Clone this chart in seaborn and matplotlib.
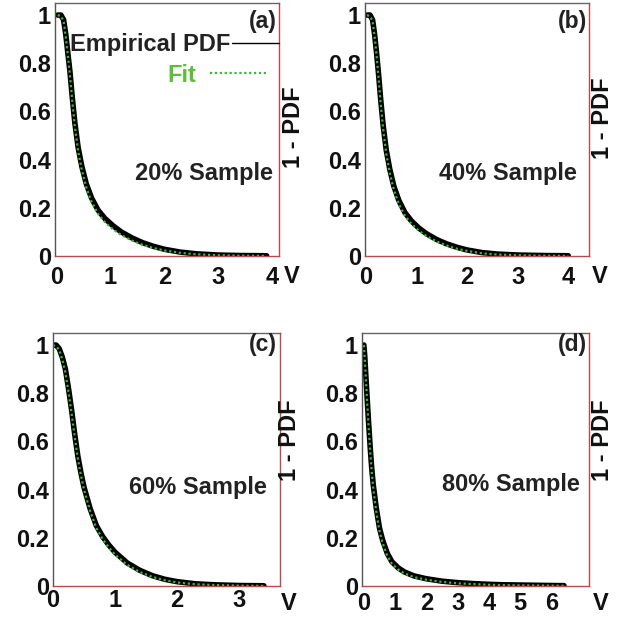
import matplotlib
matplotlib.use("Agg")
import matplotlib.pyplot as plt
from matplotlib.ticker import MultipleLocator, FixedLocator, FixedFormatter
import seaborn as sns

# ---------------- data ----------------
panel_letters = ["(a)", "(b)", "(c)", "(d)"]
sample_labels = ["20% Sample", "40% Sample", "60% Sample", "80% Sample"]

x_a = [0.02, 0.08, 0.13, 0.17, 0.21, 0.25, 0.29, 0.34, 0.40, 0.47, 0.55, 0.65, 0.77,
       0.90, 1.05, 1.20, 1.40, 1.60, 1.80, 2.00, 2.30, 2.60, 3.00, 3.40, 3.90]
emp_a = [1.00, 1.00, 0.98, 0.92, 0.84, 0.76, 0.66, 0.55, 0.45, 0.37, 0.30, 0.24, 0.19,
         0.155, 0.125, 0.10, 0.075, 0.055, 0.040, 0.028, 0.016, 0.009, 0.004, 0.002, 0.001]
fit_a = [1.00, 0.995, 0.975, 0.91, 0.83, 0.745, 0.645, 0.535, 0.435, 0.355, 0.285, 0.225, 0.175,
         0.14, 0.11, 0.087, 0.064, 0.046, 0.033, 0.023, 0.013, 0.007, 0.003, 0.0015, 0.0005]

x_b = [0.02, 0.08, 0.13, 0.17, 0.21, 0.25, 0.29, 0.34, 0.40, 0.47, 0.55, 0.65, 0.77,
       0.90, 1.05, 1.20, 1.40, 1.60, 1.80, 2.00, 2.30, 2.60, 3.00, 3.50, 4.00]
emp_b = [1.00, 1.00, 0.98, 0.92, 0.84, 0.75, 0.65, 0.54, 0.44, 0.36, 0.29, 0.23, 0.18,
         0.145, 0.115, 0.092, 0.068, 0.050, 0.036, 0.025, 0.014, 0.008, 0.004, 0.002, 0.001]
fit_b = [1.00, 0.995, 0.975, 0.91, 0.83, 0.735, 0.635, 0.525, 0.425, 0.345, 0.275, 0.215, 0.167,
         0.133, 0.104, 0.082, 0.060, 0.043, 0.030, 0.021, 0.011, 0.006, 0.003, 0.0012, 0.0005]

x_c = [0.00, 0.05, 0.10, 0.15, 0.20, 0.25, 0.30, 0.35, 0.40, 0.45, 0.50, 0.60, 0.70,
       0.80, 0.90, 1.00, 1.20, 1.40, 1.60, 1.80, 2.00, 2.30, 2.60, 3.00, 3.40]
emp_c = [1.00, 1.00, 0.985, 0.95, 0.90, 0.82, 0.73, 0.63, 0.54, 0.47, 0.41, 0.32, 0.25,
         0.205, 0.17, 0.14, 0.095, 0.065, 0.043, 0.028, 0.018, 0.009, 0.005, 0.002, 0.001]
fit_c = [1.00, 0.995, 0.98, 0.94, 0.885, 0.805, 0.715, 0.62, 0.53, 0.46, 0.40, 0.31, 0.24,
         0.195, 0.16, 0.13, 0.087, 0.058, 0.038, 0.024, 0.015, 0.007, 0.004, 0.0015, 0.0005]

x_d = [0.00, 0.03, 0.06, 0.10, 0.15, 0.20, 0.25, 0.30, 0.40, 0.50, 0.60, 0.75, 0.90,
       1.10, 1.30, 1.60, 2.00, 2.50, 3.00, 3.50, 4.00, 4.50, 5.00, 5.50, 6.00, 6.40]
emp_d = [1.00, 0.95, 0.88, 0.79, 0.68, 0.58, 0.49, 0.42, 0.32, 0.24, 0.19, 0.135, 0.10,
         0.075, 0.058, 0.042, 0.030, 0.020, 0.014, 0.010, 0.007, 0.005, 0.004, 0.003, 0.002, 0.0015]
fit_d = [1.00, 0.94, 0.87, 0.775, 0.665, 0.565, 0.475, 0.405, 0.305, 0.228, 0.178, 0.125, 0.092,
         0.068, 0.052, 0.037, 0.026, 0.017, 0.011, 0.008, 0.005, 0.0035, 0.0025, 0.002, 0.0015, 0.001]

x_tick_sets = [[0, 1, 2, 3, 4], [0, 1, 2, 3, 4], [0, 1, 2, 3], [0, 1, 2, 3, 4, 5, 6]]
y_ticks = [0, 0.2, 0.4, 0.6, 0.8, 1.0]
y_tick_labels = ["0", "0.2", "0.4", "0.6", "0.8", "1"]

# ---------------- style ----------------
sns.set_theme(style="white")
plt.rcParams["font.family"] = ["Liberation Sans", "DejaVu Sans"]
plt.rcParams["font.weight"] = "bold"

EMP_COLOR = "#000000"
FIT_COLOR = "#3fb53a"
FIT_TEXT = "#5cbf3c"
RED = "#b84a4a"
GREY = "#555555"

fig = plt.figure(figsize=(6.25, 6.17), dpi=100)
W, H = 625.0, 617.0

# pixel boxes (left, right, top, bottom) for each panel
boxes = [(55, 279, 3, 256), (365, 589, 3, 256), (53, 280, 333, 586), (362, 589, 333, 586)]
xlims = [(-0.03, 4.13), (-0.02, 4.41), (0.0, 3.66), (-0.06, 7.2)]
xdata = [x_a, x_b, x_c, x_d]
edata = [emp_a, emp_b, emp_c, emp_d]
fdata = [fit_a, fit_b, fit_c, fit_d]
xpads = [7, 7, 2.5, 4]
vpos = [(1.055, -0.083), (1.05, -0.083), (1.04, -0.07), (1.05, -0.07)]
ylab_pos = [(1.0625, 0.51), (1.0625, 0.545), (1.044, 0.577), (1.06, 0.577)]
sample_pos = [(0.973, 0.328), (0.946, 0.328), (0.943, 0.391), (0.96, 0.40)]
letter_pos = [(0.99, 0.925), (0.99, 0.925), (0.987, 0.953), (0.99, 0.953)]

for i in range(4):
    l, r, t, b = boxes[i]
    ax = fig.add_axes([l / W, 1 - b / H, (r - l) / W, (b - t) / H])
    sns.lineplot(x=xdata[i], y=edata[i], ax=ax, color=EMP_COLOR, linewidth=4.0,
                 estimator=None, sort=False, label="Empirical PDF", legend=False)
    sns.lineplot(x=xdata[i], y=fdata[i], ax=ax, color=FIT_COLOR, linewidth=1.6,
                 estimator=None, sort=False, label="Fit", legend=False)
    ax.lines[1].set_linestyle((0, (1.0, 1.2)))

    ax.set_xlim(*xlims[i])
    ax.set_ylim(0, 1.05)
    ax.set_xticks(x_tick_sets[i])
    ax.set_xticklabels([str(v) for v in x_tick_sets[i]])
    ax.yaxis.set_major_locator(FixedLocator(y_ticks))
    ax.yaxis.set_major_formatter(FixedFormatter(y_tick_labels))
    ax.xaxis.set_minor_locator(MultipleLocator(0.2))
    ax.yaxis.set_minor_locator(MultipleLocator(0.05))
    ax.tick_params(axis="both", which="both", direction="in", top=False, right=False,
                   colors="#111111", width=0.8)
    ax.tick_params(axis="x", which="major", length=6, labelsize=17, pad=xpads[i])
    ax.tick_params(axis="x", which="minor", length=3)
    ax.tick_params(axis="y", which="major", length=4.5, labelsize=17, pad=3)
    ax.tick_params(axis="y", which="minor", length=2.5)
    ax.set_xlabel("")
    ax.set_ylabel("")

    ax.spines["left"].set_color(GREY)
    ax.spines["top"].set_color("#666666")
    ax.spines["right"].set_color(RED)
    ax.spines["bottom"].set_color(RED)
    for s in ax.spines.values():
        s.set_linewidth(1.0)
        s.set_visible(True)

    ax.text(vpos[i][0], vpos[i][1], "V", transform=ax.transAxes, fontsize=17,
            ha="center", va="center", color="#111111")
    ax.text(ylab_pos[i][0], ylab_pos[i][1], "1 - PDF", transform=ax.transAxes,
            fontsize=17, rotation=90, ha="center", va="center", color="#111111")
    ax.text(sample_pos[i][0], sample_pos[i][1], sample_labels[i], transform=ax.transAxes,
            fontsize=17, ha="right", va="center", color="#222222")
    ax.text(letter_pos[i][0], letter_pos[i][1], panel_letters[i], transform=ax.transAxes,
            fontsize=16.5, ha="right", va="center", color="#222222")

    if i == 0:
        emp_line, fit_line = ax.lines[0], ax.lines[1]
        leg1 = ax.legend(handles=[emp_line], labels=["Empirical PDF"], markerfirst=False,
                         frameon=False, loc="center right", bbox_to_anchor=(1.0, 0.834),
                         handlelength=2.0, handletextpad=0.05, borderpad=0,
                         borderaxespad=0, prop={"weight": "bold", "size": 17})
        leg1.get_lines()[0].set_linewidth(1.0)
        for txt in leg1.get_texts():
            txt.set_color("#222222")
        ax.add_artist(leg1)
        leg2 = ax.legend(handles=[fit_line], labels=["Fit"], markerfirst=False,
                         frameon=False, loc="center right", bbox_to_anchor=(0.946, 0.715),
                         handlelength=2.4, handletextpad=0.6, borderpad=0,
                         borderaxespad=0, prop={"weight": "bold", "size": 17},
                         labelcolor=FIT_TEXT)
        leg2.get_lines()[0].set_linewidth(1.6)

fig.savefig("out.png", dpi=100, facecolor="white")
